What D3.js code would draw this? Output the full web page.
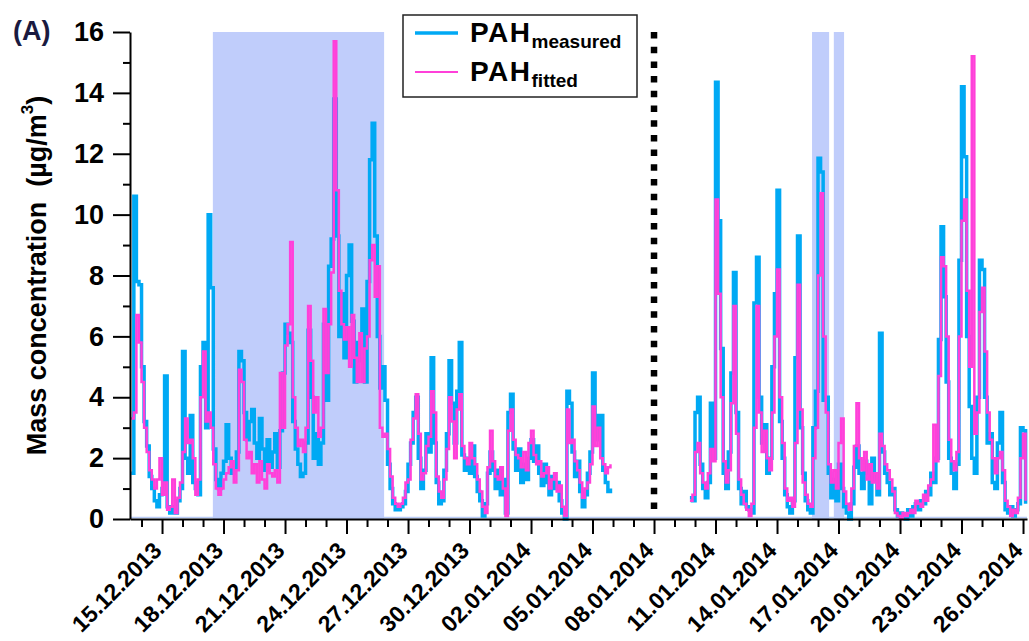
<!DOCTYPE html>
<html lang="en">
    <head>
        <meta charset="utf-8">
        <title>PAH measured vs fitted</title>
        <script src="https://d3js.org/d3.v7.min.js"></script>
        <style type="text/css">
            body { margin: 0; background: #fff; }
            text { font-family: "Liberation Sans", Arial, Helvetica, sans-serif; font-weight: bold; }
        </style>
    </head>
    <body>
        <script type="text/javascript">

            //1. sizes
            const svgW = 1029;
            const svgH = 641;
            const plotLeft = 130, plotRight = 1027, plotTop = 32, plotBottom = 519;

            //2. data (3-hourly values)
            const xTickLabels = ["15.12.2013", "18.12.2013", "21.12.2013", "24.12.2013", "27.12.2013",
                "30.12.2013", "02.01.2014", "05.01.2014", "08.01.2014", "11.01.2014", "14.01.2014",
                "17.01.2014", "20.01.2014", "23.01.2014", "26.01.2014"];
            const yTicks = [0, 2, 4, 6, 8, 10, 12, 14, 16];
            const yMinor = [1, 3, 5, 7, 9, 11, 13, 15];

            const seriesNames = ["PAH", "PAH"];
            const seriesSubs = ["measured", "fitted"];

            // segment starts (first value), step = 3 h
            const segStarts = ["13.12.2013 12:00", "09.01.2014 18:00"];

            const measuredDec = [
                1.5, 10.6, 7.8, 7.7,
                5.0, 3.2, 2.4, 1.4, 1.0, 0.6, 0.4, 0.8,
                1.0, 4.7, 0.4, 0.2, 0.4, 0.2, 0.6, 1.0,
                5.5, 2.0, 1.5, 3.4, 1.2, 1.0, 0.8, 5.0,
                5.8, 3.0, 10.0, 7.6, 2.3, 1.3, 1.0, 1.5,
                1.9, 3.1, 2.0, 1.5, 1.7, 2.2, 5.5, 5.2,
                3.5, 2.6, 3.2, 3.6, 2.5, 2.0, 3.3, 2.3,
                1.6, 2.6, 1.7, 2.2, 2.8, 1.7, 2.9, 4.8,
                6.4, 6.1, 5.8, 3.2, 2.3, 1.8, 1.4, 1.5,
                2.5, 6.2, 4.0, 2.0, 2.8, 1.8, 2.5, 6.4,
                3.9, 8.3, 9.2, 13.8, 9.3, 6.0, 7.4, 5.3,
                8.0, 9.0, 6.5, 4.5, 5.8, 5.2, 6.9, 4.5,
                7.8, 11.8, 13.0, 9.3, 6.0, 4.3, 5.0, 3.9,
                1.8, 1.0, 0.5, 0.3, 0.3, 0.4, 0.5, 0.9,
                1.8, 2.5, 3.5, 4.0, 2.0, 1.0, 1.6, 2.8,
                2.2, 5.3, 2.5, 1.2, 0.5, 0.6, 1.6, 2.8,
                5.2, 3.8, 2.5, 4.2, 5.8, 2.1, 1.6, 2.0,
                1.5, 2.4, 1.4, 0.9, 0.6, 0.1, 0.5, 1.5,
                2.2, 1.6, 1.0, 1.6, 0.8, 1.3, 0.2, 3.5,
                4.1, 2.3, 1.6, 2.3, 1.2, 1.8, 1.3, 2.0,
                2.6, 1.9, 2.4, 1.5, 1.1, 1.8, 1.2, 0.8,
                1.4, 1.0, 1.2, 0.6, 0.2, 0.0, 4.2, 3.8,
                2.2, 1.4, 1.9, 0.9, 0.4, 0.8, 1.5, 2.2,
                4.8, 3.4, 2.6, 3.4, 1.6, 1.2, 0.9, 1.0
            ];
            const fittedDec = [
                3.3, 3.5, 6.7, 5.8,
                4.5, 3.0, 2.2, 1.6, 1.3, 1.0, 1.3, 2.0,
                0.8, 1.2, 0.3, 0.4, 1.3, 0.2, 0.7, 1.2,
                2.2, 3.3, 2.5, 2.6, 2.0, 0.8, 1.3, 4.0,
                5.5, 3.2, 3.5, 3.0, 1.8, 1.0, 0.8, 1.0,
                1.3, 1.5, 1.7, 1.9, 1.2, 1.6, 4.9, 4.5,
                2.6, 2.0, 2.2, 1.5, 1.8, 1.2, 1.9, 1.3,
                1.0, 1.8, 1.5, 1.4, 1.6, 1.2, 4.8, 3.0,
                5.7, 6.4, 9.1, 4.0, 3.0, 2.4, 2.6, 2.2,
                3.0, 7.0, 5.2, 3.5, 4.0, 2.7, 3.0, 6.9,
                4.8, 6.4, 8.1, 15.7, 10.8, 7.5, 6.4, 5.9,
                6.3, 5.0, 6.7, 5.3, 4.5, 6.1, 4.5, 5.6,
                6.0, 8.5, 9.0, 7.3, 8.3, 3.0, 2.7, 2.8,
                2.3, 1.4, 0.7, 0.5, 0.4, 0.5, 0.7, 1.2,
                1.3, 2.6, 3.3, 4.1, 2.8, 1.3, 1.5, 2.4,
                2.7, 4.2, 3.5, 1.4, 0.9, 0.7, 1.3, 2.3,
                4.0, 3.2, 2.0, 3.6, 4.1, 2.4, 2.0, 1.8,
                2.5, 2.0, 1.8, 1.3, 0.9, 0.4, 0.2, 1.7,
                2.9, 1.9, 1.4, 1.3, 1.7, 1.0, 0.1, 2.9,
                3.6, 2.6, 2.1, 2.0, 1.7, 2.2, 1.6, 2.5,
                2.9, 2.1, 1.8, 1.9, 1.4, 1.5, 1.7, 1.0,
                1.3, 1.5, 0.9, 1.1, 0.4, 0.1, 3.6, 2.5,
                2.6, 1.9, 1.6, 1.2, 0.7, 1.0, 1.2, 1.8,
                3.7, 2.4, 3.0, 2.0, 1.8, 1.5, 1.7, 1.8
            ];
            const measuredJan = [
                0.7, 0.6,
                3.5, 4.0, 1.8, 1.0, 0.7, 1.2, 3.8, 2.0,
                14.35, 9.8, 5.6, 1.5, 1.0, 2.2, 4.8, 8.1,
                3.5, 1.0, 0.5, 0.9, 0.4, 0.3, 0.2, 7.1,
                8.6, 4.0, 2.5, 3.1, 1.5, 2.0, 5.0, 7.4,
                10.8, 3.2, 2.0, 0.8, 0.4, 0.2, 0.6, 5.3,
                9.3, 3.0, 1.5, 0.6, 0.3, 0.2, 3.0, 4.2,
                11.85, 11.4, 3.9, 4.0, 1.5, 0.7, 1.3, 0.6,
                1.8, 1.0, 0.4, 0.2, 0.0, 0.5, 1.7, 2.4,
                1.5, 1.0, 1.9, 1.5, 0.5, 2.0, 1.3, 0.8,
                6.1, 2.2, 1.5, 1.2, 0.8, 1.0, 0.3, 0.1,
                0.2, 0.1, 0.0, 0.3, 0.1, 0.4, 0.5, 0.3,
                0.6, 0.5, 0.9, 0.8, 1.5, 1.2, 2.0, 5.9,
                9.6, 7.3, 4.5, 2.0, 1.5, 1.0, 1.8, 8.5,
                14.2, 11.9, 6.0, 3.7, 2.0, 1.5, 4.0, 8.5,
                8.2, 4.0, 2.5, 2.8, 1.2, 1.0, 2.5, 3.5,
                1.2, 0.3, 0.2, 0.4, 0.1, 0.3, 0.5, 3.0,
                2.9, 0.5
            ];
            const fittedJan = [
                0.6, 0.8,
                2.2, 2.5, 1.5, 1.2, 1.0, 1.5, 2.3, 1.9,
                10.5, 7.4, 4.0, 1.9, 1.2, 1.6, 3.8, 7.0,
                2.8, 1.3, 0.8, 0.5, 0.3, 0.1, 0.5, 3.0,
                7.0, 3.5, 2.2, 2.9, 2.0, 1.6, 3.5, 6.0,
                8.2, 4.0, 2.5, 1.0, 0.6, 0.7, 0.4, 2.5,
                7.7, 3.6, 1.2, 0.8, 0.5, 0.4, 2.0, 3.0,
                8.0, 10.7, 6.0, 3.5, 1.8, 1.2, 1.6, 1.0,
                2.5, 3.3, 0.9, 0.5, 0.3, 1.0, 2.4, 3.8,
                2.0, 1.6, 2.2, 1.3, 1.8, 1.2, 1.5, 1.0,
                2.8, 2.4, 1.8, 1.6, 1.3, 0.9, 0.2, 0.1,
                0.0, 0.2, 0.1, 0.2, 0.3, 0.2, 0.6, 0.5,
                0.4, 0.8, 0.6, 1.1, 1.3, 3.1, 1.9, 4.7,
                8.6, 8.3, 6.0, 2.6, 1.9, 1.6, 2.2, 6.0,
                9.8, 10.5, 7.5, 5.0, 15.2, 2.8, 3.5, 6.8,
                7.6, 5.5, 3.5, 2.6, 2.0, 1.5, 2.0, 2.2,
                1.6, 0.6, 0.4, 0.1, 0.3, 0.2, 0.7, 2.0,
                2.8, 0.6
            ];

            // shaded periods and the dotted separator
            const shadeStarts = ["17.12.2013 11:30", "15.01.2014 17:00", "16.01.2014 18:30"];
            const shadeEnds = ["25.12.2013 20:00", "16.01.2014 13:00", "17.01.2014 06:30"];
            const separatorDate = "08.01.2014";

            const colMeasured = "#00a9f4";
            const colFitted = "#ff40d9";
            const colShade = "#c0cdfb";

            //3. scales
            const parseDay = d3.timeParse("%d.%m.%Y");
            const parseDT = d3.timeParse("%d.%m.%Y %H:%M");

            const xScale = d3.scaleTime()
                            .domain([parseDT("13.12.2013 10:30"), parseDT("26.01.2014 04:40")])
                            .range([plotLeft, plotRight]);

            const yScale = d3.scaleLinear()
                            .domain([0, 16])
                            .range([plotBottom, plotTop]);

            function toPoints(values, start) {
                const t0 = parseDT(start);
                return values.map((v, i) => ({ t: d3.timeHour.offset(t0, 3 * i), v: v }));
            }

            //4. svg
            const svg = d3.select("body")
                        .append("svg")
                        .attr("width", svgW)
                        .attr("height", svgH);

            // shaded periods
            svg.selectAll("rect.shade")
                .data(shadeStarts)
                .enter()
                .append("rect")
                .attr("class", "shade")
                .attr("x", d => xScale(parseDT(d)))
                .attr("width", (d, i) => xScale(parseDT(shadeEnds[i])) - xScale(parseDT(d)))
                .attr("y", yScale(16))
                .attr("height", yScale(0) - yScale(16))
                .attr("fill", colShade);

            // faint zero line
            svg.append("line")
                .attr("x1", plotLeft).attr("x2", plotRight)
                .attr("y1", yScale(0) - 1.5).attr("y2", yScale(0) - 1.5)
                .attr("stroke", "#b9cbf7")
                .attr("stroke-width", 1.5);

            // lines
            const line = d3.line()
                            .x(d => xScale(d.t))
                            .y(d => yScale(d.v))
                            .curve(d3.curveStepAfter);

            [[measuredDec, 0], [measuredJan, 1]].forEach(s => {
                svg.append("path")
                    .datum(toPoints(s[0], segStarts[s[1]]))
                    .attr("d", line)
                    .attr("fill", "none")
                    .attr("stroke", colMeasured)
                    .attr("stroke-width", 3.5);
            });
            [[fittedDec, 0], [fittedJan, 1]].forEach(s => {
                svg.append("path")
                    .datum(toPoints(s[0], segStarts[s[1]]))
                    .attr("d", line)
                    .attr("fill", "none")
                    .attr("stroke", colFitted)
                    .attr("stroke-width", 2.5);
            });

            // dotted separator
            svg.append("line")
                .attr("x1", xScale(parseDay(separatorDate)))
                .attr("x2", xScale(parseDay(separatorDate)))
                .attr("y1", yScale(16))
                .attr("y2", yScale(0.15))
                .attr("stroke", "#000")
                .attr("stroke-width", 6.5)
                .attr("stroke-dasharray", "6.5,8.2");

            //5. axes
            const majorDates = xTickLabels.map(parseDay);
            const minorDates = d3.timeDay.range(xScale.domain()[0], xScale.domain()[1])
                                .filter(d => !majorDates.some(m => +m === +d));

            const xMinorAxis = d3.axisBottom(xScale)
                                .tickValues(minorDates)
                                .tickSize(8)
                                .tickSizeOuter(0)
                                .tickFormat("");
            const xMajorAxis = d3.axisBottom(xScale)
                                .tickValues(majorDates)
                                .tickSize(15)
                                .tickSizeOuter(0)
                                .tickFormat("");

            const gxMinor = svg.append("g")
                .attr("transform", "translate(0," + plotBottom + ")")
                .call(xMinorAxis);
            const gx = svg.append("g")
                .attr("transform", "translate(0," + plotBottom + ")")
                .call(xMajorAxis);
            gxMinor.select(".domain").remove();
            gx.select(".domain").attr("stroke-width", 2);
            svg.selectAll(".tick line").attr("stroke-width", 2);

            // rotated date labels (kept inside the 641 px frame)
            svg.selectAll("text.xlabel")
                .data(xTickLabels)
                .enter()
                .append("text")
                .attr("class", "xlabel")
                .attr("transform", d => "translate(" + (xScale(parseDay(d)) + 1) + "," + (plotBottom + 33) + ") rotate(-45)")
                .attr("text-anchor", "end")
                .attr("font-size", "23px")
                .text(d => d);

            const yMinorAxis = d3.axisLeft(yScale)
                                .tickValues(yMinor)
                                .tickSize(7)
                                .tickSizeOuter(0)
                                .tickFormat("");
            const yMajorAxis = d3.axisLeft(yScale)
                                .tickValues(yTicks)
                                .tickSize(17)
                                .tickSizeOuter(0)
                                .tickPadding(9);

            const gyMinor = svg.append("g")
                .attr("transform", "translate(" + plotLeft + ",0)")
                .call(yMinorAxis);
            gyMinor.select(".domain").remove();
            const gy = svg.append("g")
                .attr("transform", "translate(" + plotLeft + ",0)")
                .call(yMajorAxis);
            gy.select(".domain").attr("stroke-width", 2);
            gy.selectAll(".tick line").attr("stroke-width", 2);
            gyMinor.selectAll(".tick line").attr("stroke-width", 2);
            gy.selectAll("text")
                .attr("font-size", "27px")
                .attr("font-family", "'Liberation Sans', Arial, sans-serif")
                .attr("font-weight", "bold")
                .attr("fill", "#000");

            // y title
            const yTitle = svg.append("text")
                .attr("transform", "translate(46," + ((plotTop + plotBottom) / 2) + ") rotate(-90)")
                .attr("text-anchor", "middle")
                .attr("font-size", "27px")
                .style("white-space", "pre");
            yTitle.append("tspan").text("Mass concentration  (\u00b5g/m");
            yTitle.append("tspan").attr("font-size", "17px").attr("dy", -13).text("3");
            yTitle.append("tspan").attr("dy", 13).text(")");

            // panel label
            svg.append("text")
                .attr("x", 13)
                .attr("y", 40)
                .attr("font-size", "27px")
                .attr("fill", "#1a1a40")
                .text("(A)");

            //6. legend
            const legend = svg.append("g");
            legend.append("rect")
                .attr("x", 403).attr("y", 15)
                .attr("width", 234).attr("height", 82)
                .attr("fill", "#fff")
                .attr("stroke", "#222")
                .attr("stroke-width", 1.5);

            const legendCols = [colMeasured, colFitted];
            const legendWidths = [3.5, 2];
            seriesNames.forEach((name, i) => {
                const ly = 33 + i * 39;
                legend.append("line")
                    .attr("x1", 415).attr("x2", 458)
                    .attr("y1", ly).attr("y2", ly)
                    .attr("stroke", legendCols[i])
                    .attr("stroke-width", legendWidths[i]);
                const t = legend.append("text")
                    .attr("x", 470)
                    .attr("y", ly + 9)
                    .attr("font-size", "28px")
                    .attr("letter-spacing", "1.5px");
                t.append("tspan").text(name);
                t.append("tspan").attr("font-size", "19px").attr("dy", 6).attr("letter-spacing", "0px").text(seriesSubs[i]);
            });

        </script>
    </body>
</html>
